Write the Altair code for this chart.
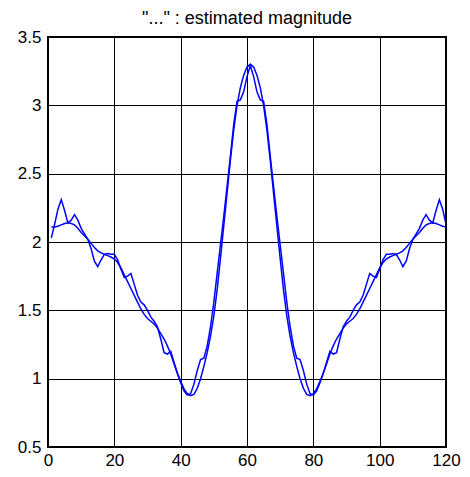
import altair as alt
import pandas as pd

# x positions (samples 1..120)
x_vals = list(range(1, 121))

# smooth (true) magnitude
smooth_vals = [
    2.11, 2.11, 2.115, 2.125, 2.135, 2.14, 2.135, 2.125, 2.10, 2.07,
    2.045, 2.02, 1.99, 1.96, 1.935, 1.92, 1.91, 1.90, 1.89, 1.875,
    1.85, 1.81, 1.76, 1.71, 1.66, 1.61, 1.56, 1.51, 1.47, 1.44,
    1.42, 1.40, 1.37, 1.33, 1.29, 1.24, 1.18, 1.11, 1.04, 0.98,
    0.925, 0.89, 0.875, 0.885, 0.93, 1.0, 1.09, 1.19, 1.31, 1.46,
    1.65, 1.88, 2.12, 2.36, 2.6, 2.82, 3.0, 3.13, 3.22, 3.28,
    3.30,
    3.28, 3.22, 3.13, 3.0, 2.82, 2.6, 2.36, 2.12, 1.88, 1.65,
    1.46, 1.31, 1.19, 1.09, 1.0, 0.93, 0.885, 0.875, 0.89, 0.925,
    0.98, 1.04, 1.11, 1.18, 1.24, 1.29, 1.33, 1.37, 1.40, 1.42,
    1.44, 1.47, 1.51, 1.56, 1.61, 1.66, 1.71, 1.76, 1.81, 1.85,
    1.875, 1.89, 1.90, 1.91, 1.92, 1.935, 1.96, 1.99, 2.02, 2.045,
    2.07, 2.10, 2.125, 2.135, 2.14, 2.135, 2.125, 2.115, 2.11,
]

# estimated (wiggly) magnitude
estimated_vals = [
    2.03, 2.13, 2.24, 2.31, 2.23, 2.14, 2.16, 2.20, 2.16, 2.10,
    2.06, 2.02, 1.95, 1.86, 1.82, 1.87, 1.91, 1.915, 1.91, 1.91,
    1.87, 1.80, 1.74, 1.75, 1.77, 1.69, 1.61, 1.56, 1.54, 1.50,
    1.45, 1.42, 1.38, 1.29, 1.19, 1.18, 1.20, 1.12, 1.04, 0.97,
    0.91, 0.88, 0.89, 0.96, 1.06, 1.14, 1.15, 1.24, 1.38, 1.56,
    1.77, 1.98, 2.19, 2.41, 2.63, 2.86, 3.03, 3.04, 3.10, 3.21,
    3.29,
    3.21, 3.10, 3.04, 3.03, 2.86, 2.63, 2.41, 2.19, 1.98, 1.77,
    1.56, 1.38, 1.24, 1.15, 1.14, 1.06, 0.96, 0.89, 0.88, 0.91,
    0.97, 1.04, 1.12, 1.20, 1.18, 1.19, 1.29, 1.38, 1.42, 1.45,
    1.50, 1.54, 1.56, 1.61, 1.69, 1.77, 1.75, 1.74, 1.80, 1.87,
    1.91, 1.91, 1.915, 1.91, 1.87, 1.82, 1.86, 1.95, 2.02, 2.06,
    2.10, 2.16, 2.20, 2.16, 2.14, 2.23, 2.31, 2.24, 2.13,
]

x_ticks = [0, 20, 40, 60, 80, 100, 120]
y_ticks = [0.5, 1, 1.5, 2, 2.5, 3, 3.5]
title_text = '"..." : estimated magnitude'

rows = []
for xv, yv in zip(x_vals, smooth_vals):
    rows.append({"x": xv, "y": yv, "series": "true"})
for xv, yv in zip(x_vals, estimated_vals):
    rows.append({"x": xv, "y": yv, "series": "estimated"})
df = pd.DataFrame(rows)

FONT = "Liberation Sans"

chart = (
    alt.Chart(df)
    .mark_line(strokeWidth=1.5, clip=True)
    .encode(
        x=alt.X(
            "x:Q",
            scale=alt.Scale(domain=[0, 120], nice=False, zero=False),
            axis=alt.Axis(values=x_ticks, title=None, labelPadding=5, labelFlush=False),
        ),
        y=alt.Y(
            "y:Q",
            scale=alt.Scale(domain=[0.5, 3.5], nice=False, zero=False),
            axis=alt.Axis(values=y_ticks, title=None, format="~g", labelPadding=7,
                          labelFlush=False),
        ),
        color=alt.Color(
            "series:N",
            scale=alt.Scale(domain=["true", "estimated"], range=["#0000ff", "#0000ff"]),
            legend=None,
        ),
        detail="series:N",
    )
    .properties(
        width=398,
        height=410,
        title=alt.TitleParams(title_text, anchor="middle", offset=0),
        autosize=alt.AutoSizeParams(type="none"),
        padding={"left": 40, "top": 29, "right": 16, "bottom": 22},
    )
    .configure_view(stroke="black", strokeWidth=2)
    .configure_axis(
        grid=True,
        gridColor="black",
        gridOpacity=1,
        gridWidth=1,
        domain=False,
        ticks=False,
        labelFont=FONT,
        labelFontSize=17,
        labelColor="black",
    )
    .configure_title(font=FONT, fontSize=18, fontWeight="normal", color="black")
)

chart.save("out.html", embed_options={"renderer": "svg", "actions": False})
